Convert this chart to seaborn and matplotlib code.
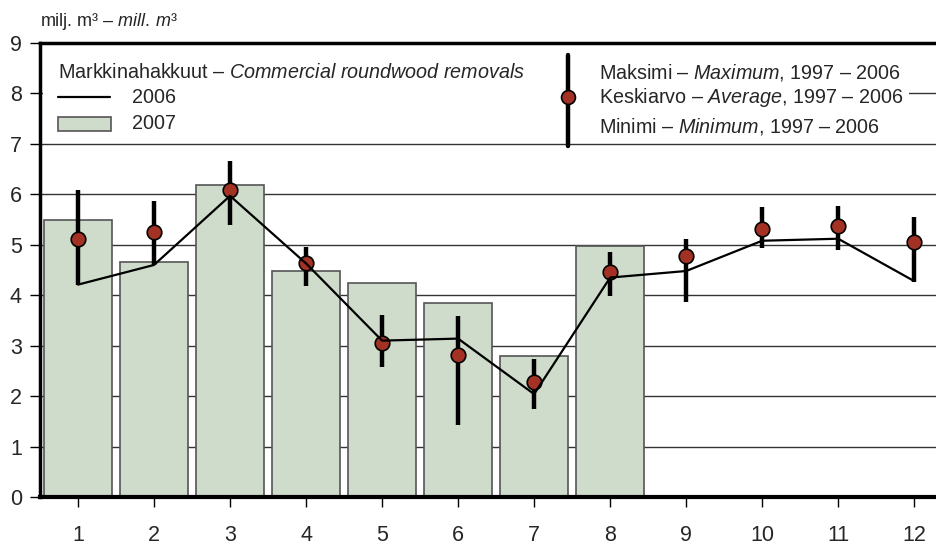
import matplotlib
matplotlib.use('Agg')
import matplotlib.pyplot as plt
import seaborn as sns
import pandas as pd
from matplotlib.patches import Rectangle
from matplotlib.lines import Line2D

# ---- data ----
months = list(range(1, 13))
removals_2007 = [5.50, 4.66, 6.19, 4.48, 4.25, 3.85, 2.80, 4.98]
removals_2006 = [4.21, 4.60, 5.97, 4.63, 3.10, 3.14, 2.04, 4.35, 4.48, 5.08, 5.12, 4.28]
avg_9706 = [5.12, 5.25, 6.09, 4.64, 3.06, 2.81, 2.27, 4.46, 4.78, 5.32, 5.37, 5.05]
max_9706 = [6.08, 5.87, 6.67, 4.95, 3.60, 3.58, 2.73, 4.85, 5.12, 5.75, 5.77, 5.56]
min_9706 = [4.21, 4.60, 5.40, 4.19, 2.57, 1.43, 1.75, 3.99, 3.86, 4.93, 4.89, 4.27]
yticks = list(range(0, 10))
xtick_labels = [str(m) for m in months]

FAM = 'Liberation Sans'
sns.set_theme(style='white')
plt.rcParams['font.family'] = [FAM, 'DejaVu Sans']
plt.rcParams['mathtext.fontset'] = 'custom'
plt.rcParams['mathtext.rm'] = FAM
plt.rcParams['mathtext.it'] = FAM + ':italic'

BAR = '#d0dccb'
DOT = '#a33224'

fig = plt.figure(figsize=(9.37, 5.44), dpi=100)
ax = fig.add_axes([40/937, 47/544, 897/937, 454/544])

df_bar = pd.DataFrame({'month': months[:8], 'value': removals_2007})
sns.barplot(data=df_bar, x='month', y='value', native_scale=True, width=0.9,
            color=BAR, edgecolor='#555555', linewidth=1.2, saturation=1,
            ax=ax, zorder=2)

ax.vlines(months, min_9706, max_9706, color='black', lw=3.2, zorder=3)
sns.scatterplot(x=months, y=avg_9706, s=110, color=DOT, edgecolor='black',
                linewidth=1.2, zorder=4, ax=ax)
sns.lineplot(x=months, y=removals_2006, color='black', lw=1.6, zorder=5, ax=ax)

ax.set_xlim(0.5, 12.3)
ax.set_ylim(0, 9)
ax.set_xticks(months)
ax.set_xticklabels(xtick_labels)
ax.set_yticks(yticks)
ax.set_xlabel('')
ax.set_ylabel('')
ax.yaxis.grid(True, color='#333333', lw=1)
ax.set_axisbelow(True)

for s in ['left', 'top']:
    ax.spines[s].set_linewidth(2.5)
    ax.spines[s].set_color('black')
ax.spines['bottom'].set_linewidth(3)
ax.spines['bottom'].set_color('black')
ax.spines['right'].set_visible(False)
ax.tick_params(axis='both', direction='out', length=7, width=1, color='black',
               labelsize=15.5, left=True, bottom=True)
ax.tick_params(axis='x', pad=13)
ax.tick_params(axis='y', pad=6)

# legend background
ax.add_patch(Rectangle((0.003, 0.80), 0.966, 0.19, transform=ax.transAxes,
                       facecolor='white', edgecolor='none', zorder=1))

fs = 14.2
# left legend
ax.text(0.020, 0.936, 'Markkinahakkuut – $\\mathit{Commercial\\ roundwood\\ removals}$',
        transform=ax.transAxes, fontsize=fs, va='center', ha='left', zorder=6)
ax.add_line(Line2D([0.020, 0.078], [0.881, 0.881], transform=ax.transAxes,
                   color='black', lw=1.6, zorder=6))
ax.text(0.1026, 0.881, '2006', transform=ax.transAxes, fontsize=fs, va='center', zorder=6)
ax.add_patch(Rectangle((0.020, 0.806), 0.059, 0.031, transform=ax.transAxes,
                       facecolor=BAR, edgecolor='#555555', lw=1.2, zorder=6))
ax.text(0.1026, 0.8216, '2007', transform=ax.transAxes, fontsize=fs, va='center', zorder=6)

# right legend
ax.add_line(Line2D([0.5886, 0.5886], [0.773, 0.9736], transform=ax.transAxes,
                   color='black', lw=3.2, zorder=6))
ax.add_line(Line2D([0.5886], [0.881], transform=ax.transAxes, marker='o',
                   markersize=10, markerfacecolor=DOT, markeredgecolor='black',
                   markeredgewidth=1.2, zorder=7))
ax.text(0.623, 0.936, 'Maksimi – $\\mathit{Maximum}$, 1997 – 2006',
        transform=ax.transAxes, fontsize=fs, va='center', zorder=6)
ax.text(0.623, 0.879, 'Keskiarvo – $\\mathit{Average}$, 1997 – 2006',
        transform=ax.transAxes, fontsize=fs, va='center', zorder=6)
ax.text(0.623, 0.815, 'Minimi – $\\mathit{Minimum}$, 1997 – 2006',
        transform=ax.transAxes, fontsize=fs, va='center', zorder=6)

fig.text(40/937, 1 - 22/544, 'milj. m³ – $\\mathit{mill.\\,m³}$', fontsize=13,
         va='center', ha='left')

fig.savefig('out.png', dpi=100)
